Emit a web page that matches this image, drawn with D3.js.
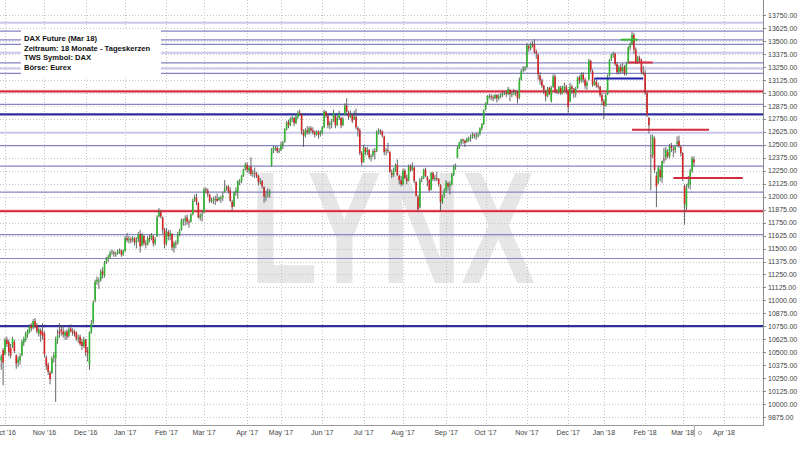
<!DOCTYPE html>
<html><head><meta charset="utf-8">
<script src="https://cdn.jsdelivr.net/npm/d3@7"></script>
<style>body{margin:0;background:#fff}svg{display:block}</style>
</head><body>
<svg id="c" width="800" height="450"></svg>
<script>
// ---- data (trading days Sep 29 2016 .. Mar 9 2018) ----
const opens = [
10420,10520,
10480,10620,10600,10540,10560,10600,10470,10400,10420,10470,10590,10620,10670,10690,10760,10740,10800,10760,10680,10710,10700,
10680,10450,10380,10300,10300,10450,10440,10620,10700,10720,10700,10660,10700,10660,10730,10700,10700,10690,10630,10650,10600,10560,
10620,10510,10380,10690,10790,11000,11180,11180,11200,11280,11240,11370,11400,11420,11470,11460,11450,11450,11470,11480,11440,
11480,11600,11580,11590,11580,11600,11560,11590,11640,11530,11620,11550,11540,11600,11600,11620,11550,11620,11810,11850,11800,11680,
11550,11660,11620,11640,11510,11550,11550,11640,11680,11770,11770,11800,11760,11760,11830,11970,11990,11940,11800,11820,
11850,12070,12060,12020,11960,11970,11970,11980,11970,11990,11990,12050,12090,12100,12060,11950,11910,12040,12050,12150,12150,12200,12270,
12310,12250,12290,12220,12230,12220,12200,12140,12150,12090,12000,12020,12030,12300,12450,12470,12470,12440,
12450,12500,12530,12650,12720,12690,12750,12760,12710,12770,12810,12790,12620,12590,12640,12620,12660,12640,12620,12600,12630,12600,
12620,12670,12820,12780,12690,12710,12730,12780,12690,12760,12760,12690,12790,12880,12810,12770,12790,12750,12770,12660,12640,12420,
12340,12470,12430,12450,12380,12400,12440,12440,12620,12640,12630,12580,12440,12450,12430,12230,12210,12260,12310,12200,12160,
12120,12250,12180,12160,12290,12260,12280,12140,12000,11900,12170,12180,12260,12190,12160,12070,12230,12170,12180,12170,12110,11950,12010,
12060,12130,12100,12120,12210,12290,12380,12470,12520,12550,12540,12530,12560,12560,12580,12600,12590,12590,12610,12660,12700,
12840,12900,12970,12970,12960,12950,12980,12950,12970,12980,13000,13000,12990,13030,12990,13000,13000,13010,12960,13130,13220,13230,
13250,13450,13430,13470,13470,13400,13370,13170,13120,13070,13020,12970,13050,12920,13060,13160,13020,13010,13050,13000,13060,13060,
13020,12920,13060,13040,13000,13050,13150,13120,13180,13130,13070,13130,13310,13210,13080,13110,13070,13060,12980,
12920,12880,12990,13170,13330,13370,13380,13280,13200,13250,13210,13250,13190,13290,13440,13470,13560,13420,13300,13340,13320,13200,
13190,13000,12760,12400,12400,12560,12200,12130,12260,12180,12360,12380,12430,12390,12490,12460,12450,12510,12540,12480,
12420,12100,11900,12100,12120,12250,12360
];
const highs = [
10480,10540,
10640,10650,10620,10580,10650,10620,10480,10460,10490,10620,10650,10700,10720,10770,10780,10820,10830,10780,10740,10730,10780,
10700,10470,10400,10320,10460,10500,10650,10720,10780,10760,10760,10710,10720,10740,10770,10730,10720,10700,10670,10670,10630,10650,
10630,10550,10700,10810,11000,11200,11230,11220,11300,11320,11380,11420,11440,11480,11490,11480,11470,11490,11500,11490,11490,
11620,11650,11620,11610,11620,11610,11610,11660,11680,11650,11630,11580,11620,11630,11650,11630,11610,11820,11890,11870,11810,11700,
11700,11680,11680,11650,11570,11580,11660,11690,11790,11790,11820,11830,11780,11840,11980,12020,12030,11950,11840,11870,
12090,12090,12080,12030,11990,12000,12010,12030,12000,12010,12050,12160,12110,12110,12090,11970,12050,12090,12160,12170,12210,12270,12330,
12330,12300,12380,12260,12280,12240,12210,12180,12160,12100,12060,12080,12070,12470,12490,12490,12490,12470,
12530,12540,12660,12730,12740,12770,12780,12770,12790,12830,12840,12800,12650,12660,12680,12680,12680,12670,12640,12640,12640,12640,
12680,12840,12830,12790,12730,12750,12840,12790,12780,12830,12770,12770,12900,12950,12830,12830,12800,12830,12850,12680,12660,12440,
12500,12480,12480,12460,12410,12460,12470,12640,12660,12650,12640,12590,12470,12520,12440,12260,12280,12320,12360,12210,12200,
12270,12270,12210,12310,12310,12330,12290,12150,12020,12180,12200,12270,12280,12200,12170,12240,12240,12210,12240,12180,12120,12020,12080,
12160,12140,12150,12230,12310,12320,12490,12530,12560,12560,12550,12570,12580,12600,12620,12610,12620,12620,12670,12710,12840,
12910,12980,12990,12990,12980,12990,12990,12990,13000,13010,13020,13020,13060,13040,13020,13040,13030,13020,13150,13230,13260,13260,
13480,13470,13490,13500,13520,13420,13380,13200,13140,13080,13030,13060,13060,13070,13180,13180,13040,13070,13070,13070,13100,13080,
13040,13100,13080,13050,13060,13160,13170,13200,13200,13150,13120,13330,13320,13230,13140,13130,13100,13070,13000,
12940,13000,13180,13330,13380,13400,13390,13300,13270,13280,13290,13270,13300,13450,13490,13590,13580,13440,13360,13360,13330,13260,
13220,13020,12770,12600,12600,12580,12240,12300,12300,12350,12470,12480,12460,12510,12520,12490,12500,12580,12590,12500,
12430,12120,12120,12200,12270,12390,12390
];
const lows = [
10330,10180,
10470,10550,10460,10440,10540,10490,10340,10360,10380,10460,10560,10600,10640,10680,10700,10720,10730,10680,10650,10600,10620,
10450,10330,10280,10190,10290,10400,10020,10580,10640,10660,10640,10620,10620,10640,10690,10660,10650,10610,10590,10560,10520,10540,
10460,10410,10330,10680,10770,10980,11150,11110,11180,11210,11220,11350,11370,11400,11440,11420,11420,11440,11450,11420,11430,
11470,11560,11550,11550,11560,11530,11500,11560,11460,11520,11530,11500,11530,11560,11580,11520,11530,11610,11800,11790,11640,11500,
11530,11580,11580,11480,11460,11500,11540,11620,11670,11720,11720,11730,11700,11750,11820,11950,11920,11790,11770,11760,
11840,12030,12000,11940,11940,11930,11920,11950,11960,11940,11960,12040,12060,12030,11950,11860,11900,12010,11980,12110,12130,12190,12250,
12230,12220,12200,12190,12180,12180,12110,12120,12080,11940,11960,11990,11990,12290,12420,12440,12420,12420,
12440,12460,12520,12640,12660,12680,12720,12680,12700,12750,12780,12600,12480,12570,12600,12600,12620,12600,12570,12590,12560,12580,
12600,12660,12760,12660,12650,12660,12720,12660,12680,12740,12660,12680,12780,12810,12740,12760,12710,12740,12650,12580,12400,12300,
12330,12400,12400,12360,12340,12380,12360,12430,12600,12600,12570,12400,12400,12420,12230,12180,12190,12240,12200,12120,12100,
12110,12170,12120,12150,12240,12250,12130,12000,11860,11890,12140,12170,12190,12100,12050,12060,12150,12150,12150,12100,11860,11930,11990,
12040,12060,12020,12110,12200,12260,12370,12460,12500,12510,12480,12520,12530,12530,12560,12560,12550,12570,12590,12640,12690,
12830,12890,12940,12930,12920,12940,12910,12930,12950,12960,12980,12960,12980,12920,12960,12980,12970,12900,12940,13120,13200,13210,
13240,13400,13410,13440,13380,13330,13130,13080,13050,12990,12920,12960,12980,12910,13050,13000,12990,12990,12980,12990,13020,12990,
12810,12910,12990,12950,12960,13040,13090,13100,13100,13040,13030,13120,13200,13060,13070,13050,13040,12960,12880,
12750,12870,12980,13160,13310,13340,13260,13180,13180,13190,13190,13170,13170,13280,13410,13460,13380,13280,13280,13290,13180,13170,
12980,12770,12610,12060,12370,12230,11900,12120,12150,12130,12320,12350,12370,12370,12430,12380,12420,12480,12470,12390,
12150,11730,11870,12080,12070,12230,12290
];
const closes = [
10460,10400,
10620,10580,10500,10470,10630,10510,10390,10430,10460,10600,10630,10680,10700,10750,10730,10800,10750,10700,10720,10670,10660,
10480,10370,10310,10240,10440,10470,10620,10660,10680,10700,10670,10690,10650,10720,10700,10690,10680,10630,10640,10580,10560,10620,
10500,10490,10690,10780,10980,11180,11200,11190,11280,11250,11360,11400,11420,11460,11470,11450,11450,11470,11480,11440,11480,
11600,11580,11590,11580,11600,11560,11580,11640,11520,11630,11550,11540,11600,11590,11630,11550,11590,11800,11850,11810,11680,11540,
11660,11620,11650,11510,11550,11540,11640,11670,11770,11770,11790,11760,11750,11830,11960,11990,11950,11800,11820,11830,
12070,12060,12030,11960,11970,11970,11980,11960,11990,11990,12010,12080,12100,12050,11960,11900,12040,12060,12150,12150,12200,12260,12310,
12260,12280,12220,12230,12220,12200,12140,12150,12100,12000,12010,12030,12050,12450,12470,12470,12440,12440,
12500,12520,12650,12710,12690,12750,12760,12710,12770,12810,12800,12630,12590,12640,12620,12660,12640,12620,12600,12630,12600,12620,
12670,12820,12780,12690,12710,12720,12810,12690,12760,12800,12690,12750,12880,12820,12770,12790,12730,12770,12670,12640,12420,12330,
12470,12430,12450,12380,12390,12440,12430,12620,12640,12630,12590,12430,12450,12440,12240,12210,12260,12300,12210,12160,12120,
12250,12180,12150,12290,12260,12290,12150,12010,11880,12160,12180,12260,12200,12160,12060,12230,12170,12180,12170,12120,11950,12000,12060,
12140,12100,12120,12210,12290,12300,12470,12520,12550,12540,12520,12560,12560,12570,12600,12590,12590,12600,12660,12700,12830,
12900,12970,12970,12960,12950,12980,12950,12970,12980,12990,13000,12990,13040,12990,12990,13000,13010,12950,13130,13210,13230,13240,
13460,13430,13470,13460,13400,13380,13180,13120,13070,13030,12970,13040,12990,13050,13160,13020,13010,13060,13000,13060,13060,13020,
12870,13060,13040,13000,13040,13150,13120,13180,13130,13070,13100,13310,13220,13080,13110,13070,13060,12980,12920,
12880,12980,13160,13320,13370,13380,13280,13200,13250,13210,13250,13190,13280,13440,13470,13560,13420,13300,13340,13320,13200,13190,
13000,12790,12690,12390,12580,12260,12100,12280,12190,12340,12350,12450,12390,12490,12470,12450,12480,12530,12490,12420,
12180,11930,12080,12130,12250,12370,12330
];
// month ticks: label + index of first trading day
const monthLabels = ["Oct '16","Nov '16","Dec '16","Jan '17","Feb '17","Mar '17","Apr '17","May '17","Jun '17","Jul '17","Aug '17","Sep '17","Oct '17","Nov '17","Dec '17","Jan '18","Feb '18","Mar '18","Apr '18"];
const monthStart  = [2,23,45,66,88,108,131,149,171,193,214,237,258,280,302,321,343,363,385];
const priceTicks = d3.range(9875, 13751, 125);
// analyst lines
const levelLines = [13598,13512,13470,13292,13190,12891,12493,12295,12044,11634,11404];
const lightLevelLines = [13679,13389,13238,12617];
const thickBlueLines = [12794,10751];
const redLines = [13016,11861];
// short segments: [startIdx, endIdx, value]
const greenSegs = [[330,339,13515]];
const redSegs = [[334,347,13295],[336,377,12645],[358,395,12180]];
const blueSegs = [[316,342,13140]];
const legendLines = ["DAX Future (Mar 18)","Zeitraum: 18 Monate - Tageskerzen","TWS Symbol: DAX","Börse: Eurex"];

// ---- drawing ----
const svg = d3.select('#c');
const plotR = 763, plotB = 425;
const x = d3.scaleLinear().domain([2,363]).range([5,682.7]);
const y = d3.scaleLinear().domain([9875,13750]).range([417,15.3]);
const n = Math.min(opens.length, highs.length, lows.length, closes.length);
const font = "'Liberation Sans', Arial, sans-serif";

svg.append('rect').attr('width',800).attr('height',450).attr('fill','#fff');

const plot = svg.append('g');
plot.append('clipPath').attr('id','clip').append('rect').attr('x',0).attr('y',0).attr('width',plotR).attr('height',plotB);
const g = plot.append('g').attr('clip-path','url(#clip)');

// watermark
g.append('text').attr('x',250).attr('y',283).attr('textLength',285).attr('lengthAdjust','spacingAndGlyphs')
 .attr('font-family',font).attr('font-weight','bold').attr('font-size',160).attr('fill','#e6e6e6').text('LYNX');

// grid
g.selectAll('.hg').data(priceTicks).join('line').attr('x1',0).attr('x2',plotR)
 .attr('y1',d=>Math.round(y(d))+0.5).attr('y2',d=>Math.round(y(d))+0.5)
 .attr('stroke','#c4c4c4').attr('stroke-dasharray','1,2');
g.selectAll('.vg').data(monthStart).join('line').attr('y1',0).attr('y2',plotB)
 .attr('x1',d=>Math.round(x(d))+0.5).attr('x2',d=>Math.round(x(d))+0.5)
 .attr('stroke','#c4c4c4').attr('stroke-dasharray','1,2');

// analyst lines
g.selectAll('.ll').data(lightLevelLines).join('line').attr('x1',0).attr('x2',plotR)
 .attr('y1',d=>y(d)).attr('y2',d=>y(d)).attr('stroke','#c8c8ec').attr('stroke-width',2);
g.selectAll('.lv').data(levelLines).join('line').attr('x1',0).attr('x2',plotR)
 .attr('y1',d=>y(d)).attr('y2',d=>y(d)).attr('stroke','#8585c4').attr('stroke-width',1.2);
g.selectAll('.tb').data(thickBlueLines).join('line').attr('x1',0).attr('x2',plotR)
 .attr('y1',d=>y(d)).attr('y2',d=>y(d)).attr('stroke','#2e2e9c').attr('stroke-width',2.2);
g.selectAll('.rlh').data(redLines).join('line').attr('x1',0).attr('x2',plotR)
 .attr('y1',d=>y(d)).attr('y2',d=>y(d)).attr('stroke','#f2b8c0').attr('stroke-width',3.2);
g.selectAll('.rl').data(redLines).join('line').attr('x1',0).attr('x2',plotR)
 .attr('y1',d=>y(d)).attr('y2',d=>y(d)).attr('stroke','#d32a3e').attr('stroke-width',1.8);

// candles
const idx = d3.range(n);
const cg = g.append('g');
cg.selectAll('.w').data(idx).join('line')
 .attr('x1',i=>x(i)).attr('x2',i=>x(i)).attr('y1',i=>y(highs[i])).attr('y2',i=>y(lows[i]))
 .attr('stroke','#555').attr('stroke-width',0.9);
cg.selectAll('.b').data(idx).join('rect')
 .attr('x',i=>x(i)-0.8).attr('width',1.6)
 .attr('y',i=>y(Math.max(opens[i],closes[i])))
 .attr('height',i=>Math.max(1,Math.abs(y(opens[i])-y(closes[i]))))
 .attr('fill',i=>closes[i]>=opens[i]?'#2fb52f':'#d42424');

// segments
function segs(data,color){
  g.selectAll(null).data(data).join('line')
   .attr('x1',d=>x(d[0])).attr('x2',d=>x(d[1])).attr('y1',d=>y(d[2])).attr('y2',d=>y(d[2]))
   .attr('stroke',color).attr('stroke-width',2);
}
segs(blueSegs,'#1f1fb0');
segs(greenSegs,'#36b836');
segs(redSegs,'#d32a3e');

// legend box
svg.append('rect').attr('x',21).attr('y',29).attr('width',140).attr('height',47).attr('fill','#fff');
svg.selectAll('.lg').data(legendLines).join('text')
 .attr('x',24).attr('y',(d,i)=>40.8+i*9.8).attr('font-family',font).attr('font-weight','bold')
 .attr('font-size',7.6).attr('fill','#111').text(d=>d);

// axes
svg.append('line').attr('x1',plotR+0.5).attr('x2',plotR+0.5).attr('y1',0).attr('y2',plotB+0.5).attr('stroke','#8a8a8a');
svg.append('line').attr('x1',0).attr('x2',plotR+0.5).attr('y1',plotB+0.5).attr('y2',plotB+0.5).attr('stroke','#9a9a9a');
svg.selectAll('.yt').data(priceTicks).join('line').attr('x1',plotR).attr('x2',plotR+3)
 .attr('y1',d=>Math.round(y(d))+0.5).attr('y2',d=>Math.round(y(d))+0.5).attr('stroke','#8a8a8a');
svg.selectAll('.yl').data(priceTicks).join('text')
 .attr('x',plotR+5).attr('y',d=>y(d)+2.5).attr('font-family',font).attr('font-size',7)
 .attr('fill','#444').text(d=>d3.format('.2f')(d));
svg.selectAll('.xl').data(monthStart).join('text')
 .attr('x',d=>x(d)).attr('y',435).attr('text-anchor','middle').attr('font-family',font).attr('font-size',7)
 .attr('fill','#444').text((d,i)=>monthLabels[i]);
// current-day marker
svg.append('line').attr('x1',x(n-1)+0.5).attr('x2',x(n-1)+0.5).attr('y1',plotB).attr('y2',437).attr('stroke','#aaa');
svg.append('circle').attr('cx',x(n-1)+6).attr('cy',433).attr('r',1.8).attr('fill','none').attr('stroke','#999').attr('stroke-width',0.8);
</script>
</body></html>
